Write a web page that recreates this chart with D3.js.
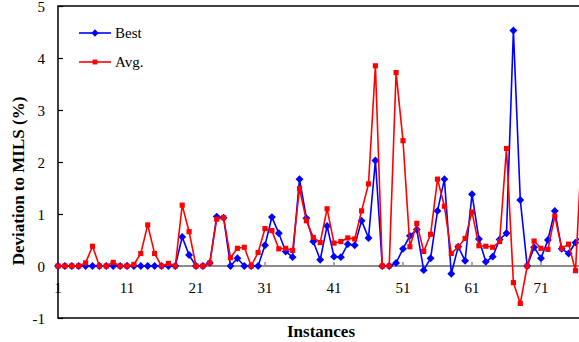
<!DOCTYPE html>
<html>
<head>
<meta charset="utf-8">
<script src="https://cdn.jsdelivr.net/npm/d3@7"></script>
<style>
  html, body { margin: 0; padding: 0; background: #fff; }
  svg { display: block; }
</style>
</head>
<body>
<svg id="chart" width="579" height="342"></svg>
<script>
// instance numbers 1..77 (last one is cut by the right edge)
const instances = d3.range(1, 78);

const best = [
  0, 0, 0, 0, 0, 0, 0, 0, 0, 0,
  0, 0, 0, 0, 0, 0, 0, 0, 0.56, 0.21,
  0, 0, 0.06, 0.95, 0.93, 0, 0.15, 0, 0, 0,
  0.40, 0.94, 0.63, 0.28, 0.17, 1.67, 0.92, 0.47, 0.12, 0.77,
  0.18, 0.17, 0.42, 0.40, 0.87, 0.54, 2.03, 0, 0, 0.06,
  0.33, 0.58, 0.70, -0.08, 0.15, 1.06, 1.67, -0.15, 0.37, 0.10,
  1.38, 0.52, 0.08, 0.18, 0.51, 0.63, 4.53, 1.27, 0, 0.36,
  0.15, 0.50, 1.06, 0.33, 0.24, 0.45, 0.6
];

const avg = [
  0, 0, 0, 0, 0.06, 0.38, 0, 0, 0.07, 0,
  0, 0.03, 0.24, 0.79, 0.24, 0, 0.05, 0, 1.17, 0.66,
  0, 0, 0.06, 0.90, 0.93, 0.16, 0.34, 0.36, 0, 0.26,
  0.72, 0.68, 0.33, 0.34, 0.30, 1.49, 0.87, 0.55, 0.45, 1.10,
  0.44, 0.47, 0.54, 0.52, 1.06, 1.58, 3.85, 0, 0, 3.72,
  2.41, 0.37, 0.82, 0.28, 0.61, 1.67, 1.15, 0.24, 0.37, 0.53,
  1.04, 0.39, 0.38, 0.36, 0.47, 2.26, -0.32, -0.72, 0, 0.48,
  0.34, 0.32, 0.96, 0.34, 0.42, -0.09, 2.5
];

const xTicks = [1, 11, 21, 31, 41, 51, 61, 71];
const yTicks = [-1, 0, 1, 2, 3, 4, 5];

const W = 579, H = 342;
const mLeft = 58, mTop = 6, mBottom = 318;
const step = 6.9;

const svg = d3.select('#chart');

const x = d3.scaleLinear()
  .domain([1, 77])
  .range([mLeft, mLeft + 76 * step]);

const y = d3.scaleLinear()
  .domain([-1, 5])
  .range([mBottom, mTop]);

const serif = '"Liberation Serif", "Times New Roman", serif';

// frame
svg.append('path')
  .attr('d', `M${W},${mTop}H${mLeft}V${mBottom}H${W}`)
  .attr('fill', 'none')
  .attr('stroke', '#000')
  .attr('stroke-width', 1.5);

// y ticks, drawn inside
const yAxis = d3.axisRight(y)
  .tickValues(yTicks)
  .tickSize(5)
  .tickFormat('');
svg.append('g')
  .attr('transform', `translate(${mLeft},0)`)
  .call(yAxis)
  .call(g => g.select('.domain').remove())
  .call(g => g.selectAll('line').attr('stroke', '#000').attr('stroke-width', 1.2));

svg.append('g')
  .selectAll('text')
  .data(yTicks)
  .join('text')
  .attr('x', 45)
  .attr('y', d => y(d) + 5.5)
  .attr('text-anchor', 'end')
  .attr('font-family', serif)
  .attr('font-size', 15)
  .text(d => d);

// zero axis (gray) with upward ticks
svg.append('line')
  .attr('x1', mLeft).attr('x2', W)
  .attr('y1', y(0)).attr('y2', y(0))
  .attr('stroke', '#8c8c8c')
  .attr('stroke-width', 2);

svg.append('g')
  .selectAll('line')
  .data(xTicks.slice(1))
  .join('line')
  .attr('x1', d => x(d)).attr('x2', d => x(d))
  .attr('y1', y(0)).attr('y2', y(0) - 4)
  .attr('stroke', '#8c8c8c')
  .attr('stroke-width', 1.5);

svg.append('g')
  .selectAll('text')
  .data(xTicks)
  .join('text')
  .attr('x', d => x(d))
  .attr('y', 293)
  .attr('text-anchor', 'middle')
  .attr('font-family', serif)
  .attr('font-size', 15)
  .text(d => d);

// axis titles
svg.append('text')
  .attr('transform', 'translate(24,181) rotate(-90)')
  .attr('text-anchor', 'middle')
  .attr('font-family', serif)
  .attr('font-weight', 'bold')
  .attr('font-size', 17)
  .text('Deviation to MILS (%)');

svg.append('text')
  .attr('x', 321)
  .attr('y', 337)
  .attr('text-anchor', 'middle')
  .attr('font-family', serif)
  .attr('font-weight', 'bold')
  .attr('font-size', 17)
  .text('Instances');

// series
const line = d3.line()
  .x((d, i) => x(instances[i]))
  .y(d => y(d));

const diamond = d3.symbol().type(d3.symbolDiamond2).size(40);
const square = d3.symbol().type(d3.symbolSquare2).size(34);

function drawSeries(vals, color, sym) {
  const g = svg.append('g');
  g.append('path')
    .datum(vals)
    .attr('d', line)
    .attr('fill', 'none')
    .attr('stroke', color)
    .attr('stroke-width', 1.6);
  g.selectAll('path.mk')
    .data(vals)
    .join('path')
    .attr('class', 'mk')
    .attr('transform', (d, i) => `translate(${x(instances[i])},${y(d)})`)
    .attr('d', sym)
    .attr('fill', color);
}

drawSeries(best, '#0000ff', diamond);
drawSeries(avg, '#ff0000', square);

// legend
const legend = [
  { name: 'Best', color: '#0000ff', sym: d3.symbol().type(d3.symbolDiamond2).size(34) },
  { name: 'Avg.', color: '#ff0000', sym: d3.symbol().type(d3.symbolSquare2).size(30) }
];
const lg = svg.append('g')
  .selectAll('g')
  .data(legend)
  .join('g')
  .attr('transform', (d, i) => `translate(79,${33 + i * 29})`);
lg.append('line')
  .attr('x1', 0).attr('x2', 32)
  .attr('stroke', d => d.color)
  .attr('stroke-width', 1.6);
lg.append('path')
  .attr('transform', 'translate(16,0)')
  .attr('d', d => d.sym())
  .attr('fill', d => d.color);
lg.append('text')
  .attr('x', 36)
  .attr('y', 5)
  .attr('font-family', serif)
  .attr('font-size', 15)
  .text(d => d.name);
</script>
</body>
</html>
